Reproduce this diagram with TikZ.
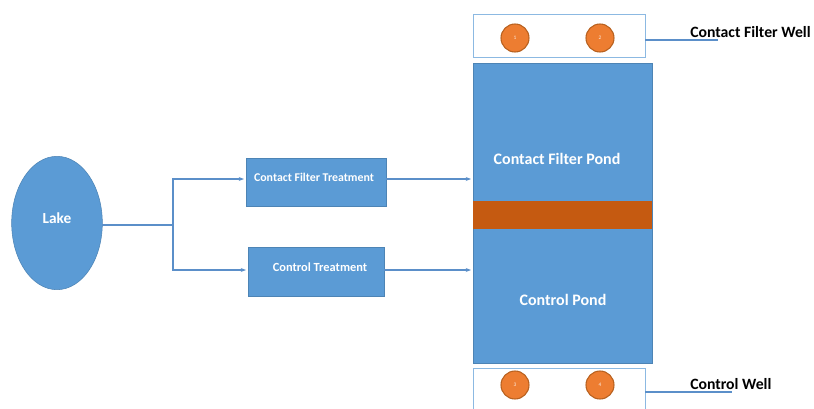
\documentclass[tikz,border=0pt]{standalone}
\usepackage{fontspec}
\setmainfont{Carlito}
\usetikzlibrary{arrows.meta,shapes.geometric}
\definecolor{pondblue}{HTML}{5B9BD5}
\definecolor{linkblue}{HTML}{5B8FC9}
\definecolor{clay}{HTML}{C55A11}
\definecolor{wellorange}{HTML}{ED7D31}
\definecolor{wellrim}{HTML}{B8611F}
\tikzset{
  x=0.75pt, y=-0.75pt,
  bluebox/.style={fill=pondblue, draw=pondblue!85!black, line width=0.4pt, inner sep=0pt},
  boxtext/.style={text=white, font=\bfseries},
  wellbox/.style={draw=pondblue!70, line width=0.5pt, fill=white},
  wellpt/.style={circle, fill=wellorange, draw=wellrim, line width=0.8pt, minimum size=21pt, inner sep=0pt,
                 text=white!85!wellorange, font=\fontsize{4}{4}\selectfont},
  link/.style={draw=linkblue, line width=0.9pt},
  flow/.style={link, -{Stealth[length=4pt,width=3pt]}},
  welllabel/.style={font=\fontsize{11.8}{14}\selectfont\bfseries, anchor=west, inner sep=0pt}
}
\begin{document}
\begin{tikzpicture}
\useasboundingbox (0,0) rectangle (814,408);

% source lake
\node[ellipse, fill=pondblue, draw=pondblue!85!black, minimum width=68pt, minimum height=100pt, inner sep=0pt] (lake) at (57,223) {};
\node[boxtext, font=\fontsize{11.5}{13}\selectfont\bfseries] at (57,218) {Lake};

% treatment boxes
\path[bluebox] (246,158) rectangle (386,206);
\node[boxtext, font=\fontsize{8.9}{10}\selectfont\bfseries] (cft) at (314,177) {Contact Filter Treatment};
\coordinate (cftL) at (244,179);
\coordinate (cftR) at (386,179);

\path[bluebox] (248,247) rectangle (384,296);
\node[boxtext, font=\fontsize{9.3}{11}\selectfont\bfseries] (ct) at (320,267) {Control Treatment};
\coordinate (ctL) at (246,270);
\coordinate (ctR) at (384,270);

% ponds
\path[bluebox] (473,63) rectangle (652,363);
\fill[clay] (473,201) rectangle (652,229);
\node[boxtext, font=\fontsize{12}{14}\selectfont\bfseries] (cfp) at (557,159) {Contact Filter Pond};
\node[boxtext, font=\fontsize{12}{14}\selectfont\bfseries] (cp) at (563,300) {Control Pond};
\coordinate (pondA) at (471,179);
\coordinate (pondB) at (471,270);

% wells
\path[wellbox] (473,14) rectangle (645,57);
\node[wellpt] (w1) at (515,38) {1};
\node[wellpt] (w2) at (600,38) {2};
\coordinate (topwell) at (645,40);
\coordinate (topend) at (718,40);
\node[welllabel] (cfw) at (690,32) {Contact Filter Well};

\path[wellbox] (473,368) rectangle (645,412);
\node[wellpt] (w3) at (515,385) {3};
\node[wellpt] (w4) at (600,385) {4};
\coordinate (botwell) at (645,392);
\coordinate (botend) at (732,392);
\node[welllabel] (cw) at (690,384) {Control Well};

% connectors
\coordinate (lakeR) at (102,225);
\coordinate (split) at (173,225);
\draw[link] (lakeR) -- (split);
\draw[flow] (split) |- (cftL);
\draw[flow] (split) |- (ctL);
\draw[flow] (cftR) -- (pondA);
\draw[flow] (ctR) -- (pondB);
\draw[link] (topwell) -- (topend);
\draw[link] (botwell) -- (botend);
\end{tikzpicture}
\end{document}
